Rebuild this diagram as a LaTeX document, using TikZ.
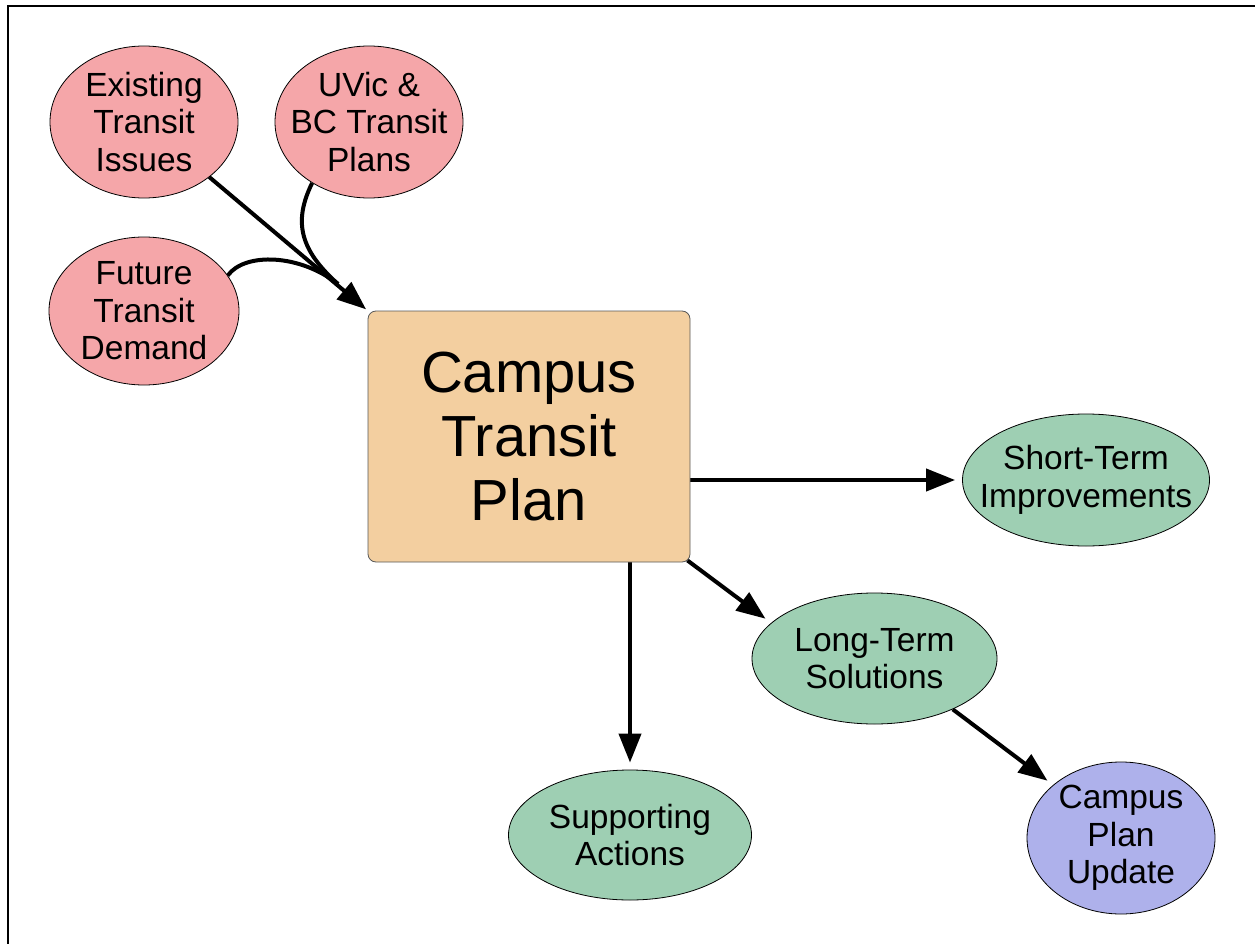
\documentclass[tikz,border=0pt]{standalone}
\usepackage{fontspec}
\setmainfont{Liberation Sans}
\usetikzlibrary{arrows.meta,shapes.geometric}
\definecolor{pinkfill}{RGB}{245,166,169}
\definecolor{greenfill}{RGB}{158,207,179}
\definecolor{purplefill}{RGB}{174,177,235}
\definecolor{boxfill}{RGB}{243,207,160}
\pgfdeclarelayer{bg}
\pgfsetlayers{bg,main}
\tikzset{
  bubble/.style={ellipse, draw=black, line width=0.8pt, inner sep=-40pt, align=center,
    font=\fontsize{33.5}{37.5}\selectfont},
  pinkb/.style={bubble, fill=pinkfill, minimum width=188pt, minimum height=152pt},
  greenb/.style={bubble, fill=greenfill, minimum width=245pt, minimum height=131pt},
  purpleb/.style={bubble, fill=purplefill, minimum width=188pt, minimum height=152pt},
  mainbox/.style={rectangle, rounded corners=8pt, draw=black!65, line width=0.8pt,
    fill=boxfill, minimum width=322pt, minimum height=251pt, inner sep=0pt, align=center,
    font=\fontsize{58}{64}\selectfont},
  ln/.style={line width=4pt},
  arr/.style={ln, -{Triangle[length=29pt,width=22pt]}, shorten >=7pt}
}
\begin{document}
\begin{tikzpicture}[x=1pt,y=-1pt]
\useasboundingbox (0,0) rectangle (1255,944);
\begin{scope}
  \clip (0,0) rectangle (1255,944);
  \draw[line width=2pt] (8,6) rectangle (1300,1000);
\end{scope}

\node[pinkb] (exist) at (144,122) {Existing\\Transit\\Issues};
\node[pinkb] (uvic) at (369,122) {UVic \&\\BC Transit\\Plans};
\node[pinkb, minimum width=190pt, minimum height=148pt] (future) at (144,311) {Future\\Transit\\Demand};
\node[mainbox] (box) at (529,436.5) {Campus\\Transit\\Plan};
\node[greenb, minimum width=247pt, minimum height=132pt] (st) at (1086,480) {Short-Term\\Improvements};
\node[greenb] (lt) at (874.5,658.5) {Long-Term\\Solutions};
\node[greenb, minimum width=243pt, minimum height=130pt] (sa) at (630,835) {Supporting\\Actions};
\node[purpleb] (cpu) at (1121,838) {Campus\\Plan\\Update};

\coordinate (m) at (338,284);

\begin{pgfonlayer}{bg}
  \draw[arr, shorten >=2pt] (exist) -- (box.north west);
  \draw[ln] (uvic.227) .. controls (293,222) and (300,250) .. (m);
  \draw[ln] (future.23) .. controls (245,252) and (300,254) .. (m);
  \draw[arr] (box.east |- st.west) -- (st.west);
  \draw[arr] (box.south -| sa.north) -- (sa.north);
  \draw[arr] ([shift={(-3pt,2pt)}]box.south east) -- (lt.161);
  \draw[arr] (lt.-33) -- (cpu.142);
\end{pgfonlayer}
\end{tikzpicture}
\end{document}
